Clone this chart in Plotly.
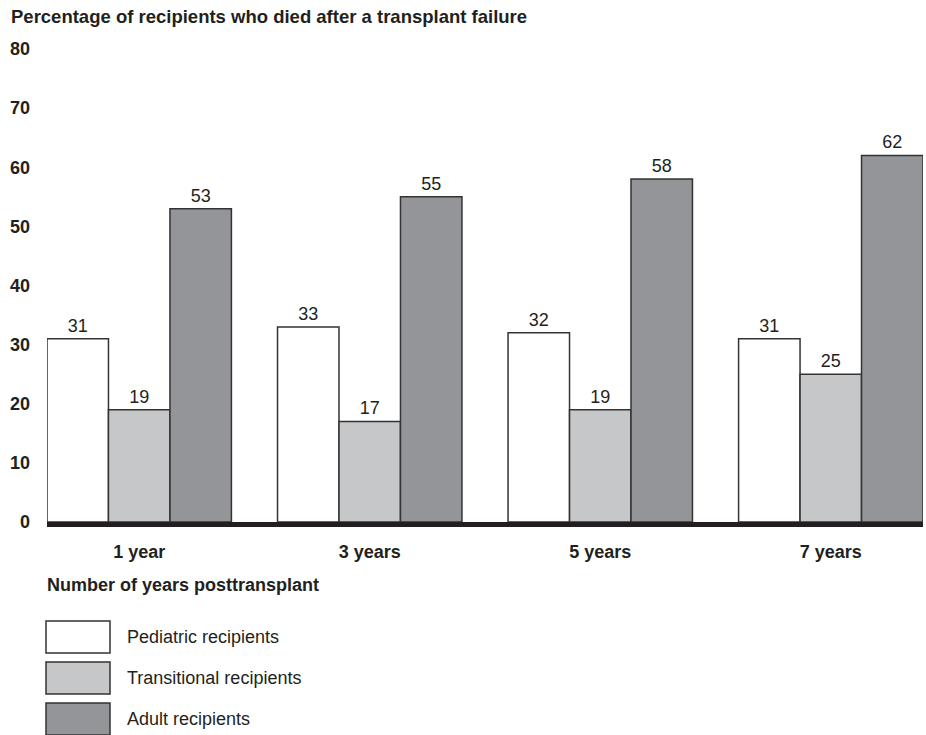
import plotly.graph_objects as go

categories = ["1 year", "3 years", "5 years", "7 years"]
series_names = ["Pediatric recipients", "Transitional recipients", "Adult recipients"]
pediatric = [31, 33, 32, 31]
transitional = [19, 17, 19, 25]
adult = [53, 55, 58, 62]
colors = ["#ffffff", "#c6c7c9", "#939598"]
y_ticks = [0, 10, 20, 30, 40, 50, 60, 70, 80]

W, H = 926, 735
L, R, T, B = 47, 3, 49, 213
PW, PH = W - L - R, H - T - B

def px_x(px):
    return (px - L) / PW

def px_y(py):
    return (H - B - py) / PH

FONT = "Liberation Sans, Arial, Helvetica, sans-serif"
INK = "#231f20"
FS = 18

fig = go.Figure()
for name, vals, col in zip(series_names, [pediatric, transitional, adult], colors):
    fig.add_trace(go.Bar(
        x=categories, y=vals, name=name,
        marker=dict(color=col, line=dict(color="#333333", width=1.5)),
        text=[str(v) for v in vals], textposition="outside",
        textfont=dict(family=FONT, size=FS, color=INK),
        cliponaxis=False,
    ))

fig.update_layout(
    width=W, height=H,
    margin=dict(l=L, r=R, t=T, b=B),
    barmode="group", bargap=0.2, bargroupgap=0,
    plot_bgcolor="white", paper_bgcolor="white",
    showlegend=False,
    font=dict(family=FONT, color=INK),
    uniformtext=dict(mode=False),
)
fig.update_xaxes(
    range=[-0.4, 3.4], showgrid=False, zeroline=False,
    showline=True, linecolor=INK, linewidth=5,
    ticks="", ticklabelstandoff=9,
    tickfont=dict(family=FONT, size=FS, color=INK, weight="bold"),
)
fig.update_yaxes(
    range=[0, 80], tickvals=y_ticks, showgrid=False, zeroline=False,
    showline=False, ticks="", ticklabelstandoff=16,
    tickfont=dict(family=FONT, size=FS, color=INK, weight="bold"),
)

# Title and axis title
fig.add_annotation(
    text="<b>Percentage of recipients who died after a transplant failure</b>",
    xref="paper", yref="paper", x=px_x(9), y=px_y(16),
    xanchor="left", yanchor="middle", showarrow=False,
    font=dict(family=FONT, size=18.5, color=INK),
)
fig.add_annotation(
    text="<b>Number of years posttransplant</b>",
    xref="paper", yref="paper", x=px_x(45), y=px_y(585),
    xanchor="left", yanchor="middle", showarrow=False,
    font=dict(family=FONT, size=FS, color=INK),
)

# Legend drawn as boxes
box_tops = [621, 662, 703]
for name, col, top in zip(series_names, colors, box_tops):
    fig.add_shape(
        type="rect", xref="paper", yref="paper",
        x0=px_x(46), x1=px_x(110), y0=px_y(top + 32), y1=px_y(top),
        fillcolor=col, line=dict(color="#333333", width=1.5),
    )
    fig.add_annotation(
        text=name, xref="paper", yref="paper",
        x=px_x(125), y=px_y(top + 16), xanchor="left", yanchor="middle",
        showarrow=False, font=dict(family=FONT, size=FS, color=INK),
    )

fig.write_html(
    "out.html",
    config={"displayModeBar": False},
    post_script="document.body.style.margin='0';document.body.style.overflow='hidden';",
)
